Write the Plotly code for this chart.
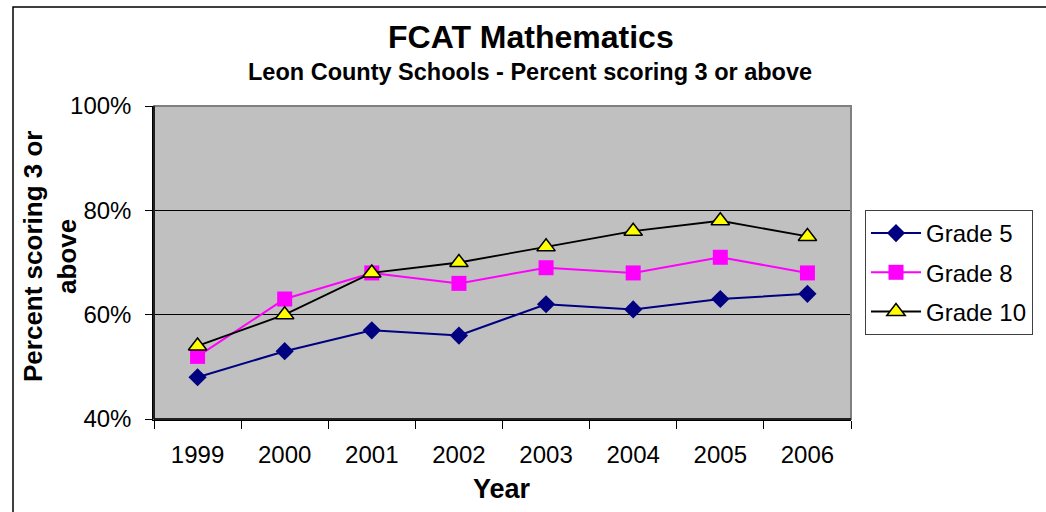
import plotly.graph_objs as go

years = ["1999", "2000", "2001", "2002", "2003", "2004", "2005", "2006"]
grade5 = [0.48, 0.53, 0.57, 0.56, 0.62, 0.61, 0.63, 0.64]
grade8 = [0.52, 0.63, 0.68, 0.66, 0.69, 0.68, 0.71, 0.68]
grade10 = [0.54, 0.60, 0.68, 0.70, 0.73, 0.76, 0.78, 0.75]

FONT = "Arial, Liberation Sans, sans-serif"

# pixel layout of the plot area in the 1046x512 page
L, R, T, B = 154, 851, 106, 419
W, H = 1046, 512


def px_x(p):
    return (p - L) / (R - L)


def px_y(p):
    return (B - p) / (B - T)


traces = [
    go.Scatter(x=years, y=grade5, name="Grade 5", mode="lines+markers",
               legendgroup="g5",
               line=dict(color="#000080", width=2),
               marker=dict(symbol="diamond", size=14, color="#000080")),
    go.Scatter(x=years, y=grade8, name="Grade 8", mode="lines+markers",
               legendgroup="g8",
               line=dict(color="#FF00FF", width=2),
               marker=dict(symbol="square", size=15, color="#FF00FF")),
    go.Scatter(x=years, y=grade10, name="Grade 10", mode="lines+markers",
               legendgroup="g10",
               line=dict(color="#000000", width=1.8),
               marker=dict(symbol="triangle-up", size=16, color="#FFFF00",
                           line=dict(color="#000000", width=1.5))),
]

fig = go.Figure(data=traces)

fig.update_layout(
    width=W, height=H,
    margin=dict(l=L, r=W - R, t=T, b=H - B),
    paper_bgcolor="white",
    plot_bgcolor="#C0C0C0",
    font=dict(family=FONT, size=24, color="black"),
    showlegend=True,
    legend=dict(x=px_x(865), y=px_y(210), xanchor="left", yanchor="top",
                bgcolor="white", bordercolor="#404040", borderwidth=1,
                font=dict(size=24), traceorder="grouped", tracegroupgap=5,
                itemwidth=50),
)

fig.update_xaxes(type="category", range=[-0.5, 7.5],
                 showline=True, linecolor="black", linewidth=1.5,
                 ticks="outside", ticklen=8, tickcolor="black", tickwidth=1,
                 tickson="boundaries", ticklabelstandoff=13,
                 showgrid=False, zeroline=False)
fig.update_yaxes(range=[0.4, 1.0], dtick=0.2, tickformat=".0%",
                 showline=True, linecolor="black", linewidth=1.5,
                 ticks="outside", ticklen=7, tickcolor="black",
                 ticklabelstandoff=9,
                 showgrid=True, gridcolor="black", gridwidth=1,
                 zeroline=False)

# grey frame on top / right of plot area and outer chart border
fig.add_shape(type="rect", xref="paper", yref="paper", x0=0, x1=1, y0=0, y1=1,
              line=dict(color="#808080", width=2), layer="above")
fig.add_shape(type="line", xref="paper", yref="paper", x0=0, x1=0, y0=0, y1=1,
              line=dict(color="black", width=1.5), layer="above")
fig.add_shape(type="line", xref="paper", yref="paper", x0=0, x1=1, y0=0, y1=0,
              line=dict(color="black", width=1.5), layer="above")
fig.add_shape(type="rect", xref="paper", yref="paper",
              x0=px_x(13), x1=px_x(1100), y0=px_y(560), y1=px_y(7),
              line=dict(color="black", width=1.5), layer="below")

fig.add_annotation(text="<b>FCAT Mathematics</b>", xref="paper", yref="paper",
                   x=px_x(531), y=px_y(37), xanchor="center", yanchor="middle",
                   showarrow=False, font=dict(size=32))
fig.add_annotation(text="<b>Leon County Schools - Percent scoring 3 or above</b>",
                   xref="paper", yref="paper", x=px_x(530), y=px_y(72),
                   xanchor="center", yanchor="middle",
                   showarrow=False, font=dict(size=23.5))
fig.add_annotation(text="<b>Year</b>", xref="paper", yref="paper",
                   x=px_x(502), y=px_y(489), xanchor="center", yanchor="middle",
                   showarrow=False, font=dict(size=27))
fig.add_annotation(text="<b>Percent scoring 3 or<br>above</b>", xref="paper",
                   yref="paper", x=px_x(50), y=px_y(257),
                   xanchor="center", yanchor="middle", showarrow=False,
                   textangle=-90, font=dict(size=26))

fig.write_html("out.html", config={"displayModeBar": False},
               post_script="document.body.style.margin='0px';")
